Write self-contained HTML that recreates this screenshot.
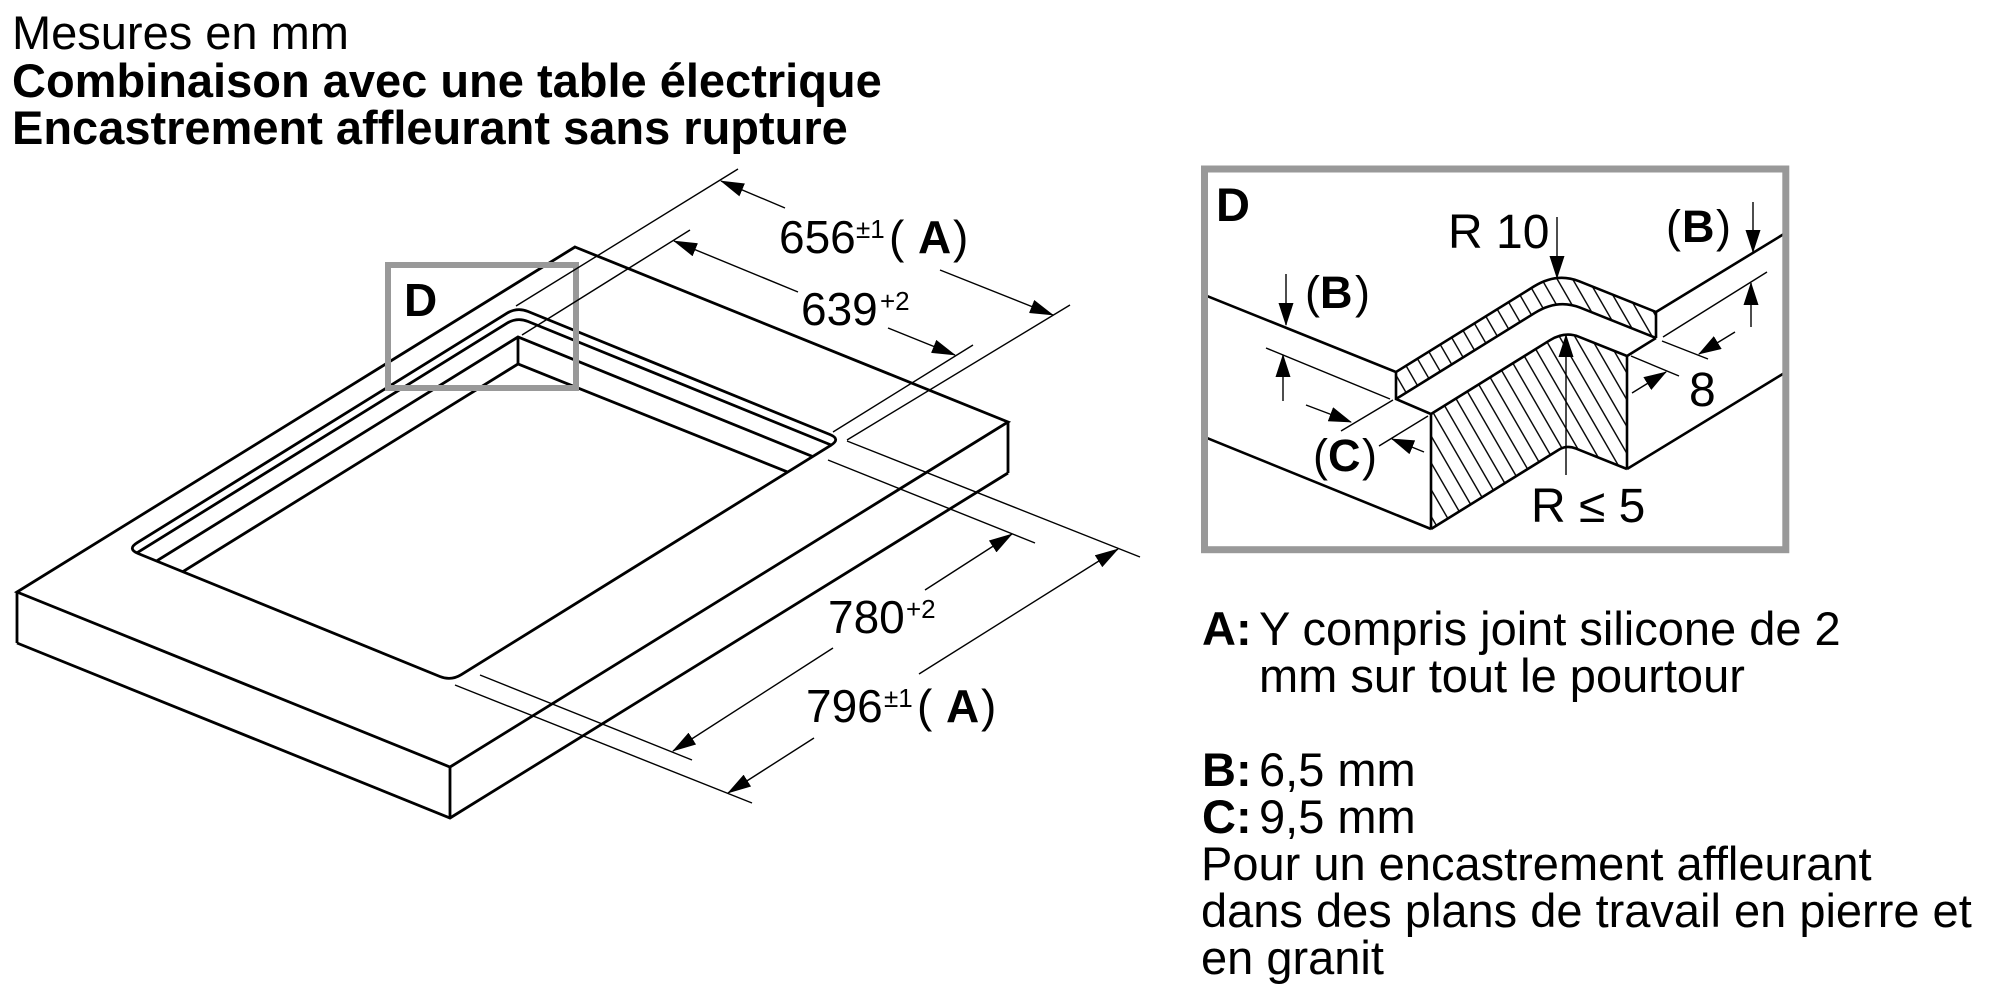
<!DOCTYPE html>
<html>
<head>
<meta charset="utf-8">
<style>
  html, body { margin: 0; padding: 0; background: #ffffff; overflow: hidden; }
  svg { display: block; }
  text { font-family: "Liberation Sans", Arial, sans-serif; fill: #000; }
  .b { font-weight: bold; }
</style>
</head>
<body>
<svg width="2000" height="1000" viewBox="0 0 2000 1000" xmlns="http://www.w3.org/2000/svg">
  <defs>
    <marker id="ah" markerUnits="userSpaceOnUse" markerWidth="24" markerHeight="14" refX="23" refY="7" orient="auto">
      <path d="M0,0 L24,7 L0,14 z" fill="#000"/>
    </marker>
    <marker id="ah2" markerUnits="userSpaceOnUse" markerWidth="23" markerHeight="15" refX="22" refY="7.5" orient="auto">
      <path d="M0,0 L23,7.5 L0,15 z" fill="#000"/>
    </marker>
    <clipPath id="open">
      <path d="M528.1,311.5 L829.9,434.5 Q841,439 830.8,445.3 L461.2,674.7 Q451,681 439.9,676.5 L138.1,553.5 Q127,549 137.2,542.7 L506.8,313.3 Q517,307 528.1,311.5 Z"/>
    </clipPath>
    <pattern id="hatch" patternUnits="userSpaceOnUse" width="13.4" height="40" patternTransform="rotate(-30)">
      <line x1="6.7" y1="-5" x2="6.7" y2="45" stroke="#000" stroke-width="1.4"/>
    </pattern>
  </defs>

  <!-- Titles -->
  <text x="12" y="49" font-size="47">Mesures en mm</text>
  <text x="12" y="97" font-size="47" class="b">Combinaison avec une table électrique</text>
  <text x="12" y="144" font-size="47" class="b">Encastrement affleurant sans rupture</text>

  <!-- ===== Main slab ===== -->
  <g fill="none" stroke="#000" stroke-width="2.8" stroke-linejoin="miter">
    <path d="M575,247 L1008,422 L450,767 L17,592 Z"/>
    <path d="M17,592 V643 M450,767 V818 M1008,422 V473"/>
    <path d="M17,643 L450,818 L1008,473"/>
    <path d="M528.1,311.5 L829.9,434.5 Q841,439 830.8,445.3 L461.2,674.7 Q451,681 439.9,676.5 L138.1,553.5 Q127,549 137.2,542.7 L506.8,313.3 Q517,307 528.1,311.5 Z"/>
  </g>
  <g clip-path="url(#open)" fill="none" stroke="#000" stroke-width="2.8">
    <path transform="translate(0,10)" d="M528.1,311.5 L829.9,434.5 Q841,439 830.8,445.3 L461.2,674.7 Q451,681 439.9,676.5 L138.1,553.5 Q127,549 137.2,542.7 L506.8,313.3 Q517,307 528.1,311.5 Z"/>
    <path d="M100,596 L518,337 L900,492"/>
    <path d="M100,623 L518,364 L900,517"/>
    <path d="M518,337 V364"/>
  </g>

  <!-- D box main -->
  <rect x="388" y="265" width="188" height="123" fill="none" stroke="#999" stroke-width="6"/>
  <text x="404" y="316" font-size="46" class="b">D</text>

  <!-- extension lines -->
  <g fill="none" stroke="#000" stroke-width="1.4">
    <path d="M516,306 L738,169"/>
    <path d="M847,440 L1070,305"/>
    <path d="M522,335 L690,230"/>
    <path d="M833,432 L973,345"/>
    <path d="M480,675 L692,760"/>
    <path d="M828,460 L1035,543"/>
    <path d="M455,685 L752,803"/>
    <path d="M847,441 L1140,557"/>
  </g>
  <!-- dimension lines -->
  <g fill="none" stroke="#000" stroke-width="1.4" marker-end="url(#ah)">
    <path d="M785,208 L721,181"/>
    <path d="M940,270 L1053,315"/>
    <path d="M798,292 L674,241"/>
    <path d="M888,328 L955,355"/>
    <path d="M925,590 L1012,534"/>
    <path d="M833,648 L673,751"/>
    <path d="M919,674 L1118,549"/>
    <path d="M814,738 L728,793"/>
  </g>

  <!-- dimension texts -->
  <text x="779" y="253" font-size="46">656</text>
  <text x="856" y="238" font-size="26">±1</text>
  <text x="889" y="253" font-size="46">(</text>
  <text x="918" y="253" font-size="46" class="b">A</text>
  <text x="953" y="253" font-size="46">)</text>

  <text x="801" y="325" font-size="46">639</text>
  <text x="880" y="310" font-size="26">+2</text>

  <text x="828" y="633" font-size="46">780</text>
  <text x="906" y="618" font-size="26">+2</text>

  <text x="806" y="722" font-size="46">796</text>
  <text x="884" y="707" font-size="26">±1</text>
  <text x="917" y="722" font-size="46">(</text>
  <text x="946" y="722" font-size="46" class="b">A</text>
  <text x="981" y="722" font-size="46">)</text>

  <!-- ===== Detail D ===== -->
  <g transform="translate(-6,-3)">
    <path d="M1402,375 L1540,289.4 Q1562.7,275.4 1585,284.2 L1662,315 L1662,341 L1586,310.6 Q1563.7,301.7 1541,315.8 L1402,402 Z" fill="url(#hatch)" stroke="none"/>
    <path d="M1437,417 L1556,343.2 Q1570.7,334.1 1585,339.8 L1633,359 L1633,472 L1582,451.6 Q1572.6,447.9 1565,452.6 L1437,532 Z" fill="url(#hatch)" stroke="none"/>

    <g fill="none" stroke="#000" stroke-width="2.6" stroke-linejoin="miter">
      <path d="M1210,297.8 L1402,375 V402 L1437,417 V532"/>
      <path d="M1210,439.8 L1437,532"/>
      <path d="M1402,375 L1540,289.4 Q1562.7,275.4 1585,284.2 L1662,315 V341"/>
      <path d="M1402,402 L1541,315.8 Q1563.7,301.7 1586,310.6 L1662,341"/>
      <path d="M1662,315 L1792,235.7"/>
      <path d="M1437,417 L1556,343.2 Q1570.7,334.1 1585,339.8 L1633,359 L1662,341"/>
      <path d="M1633,359 V472"/>
      <path d="M1437,532 L1565,452.6 Q1572.6,447.9 1582,451.6 L1633,472"/>
      <path d="M1633,472 L1792,375"/>
    </g>

    <g fill="none" stroke="#000" stroke-width="1.4">
      <path d="M1272,351 L1396,402"/>
      <path d="M1347,434 L1399,403"/>
      <path d="M1385,449 L1434,419"/>
      <path d="M1668,344 L1714,362"/>
      <path d="M1637,359 L1685,379"/>
      <path d="M1669,340 L1773,275"/>
    </g>
    <g fill="none" stroke="#000" stroke-width="1.4" marker-end="url(#ah2)">
      <path d="M1563,220 L1563,281"/>
      <path d="M1572,478 L1572,338"/>
      <path d="M1292,277 L1292,328"/>
      <path d="M1289,404 L1289,358"/>
      <path d="M1312,408 L1357,425"/>
      <path d="M1430,455 L1398,442"/>
      <path d="M1759,205 L1759,255"/>
      <path d="M1757,330 L1757,286"/>
      <path d="M1741,335 L1705,357"/>
      <path d="M1638,396 L1672,375"/>
    </g>
  </g>

  <!-- detail box -->
  <rect x="1204.5" y="169" width="581.3" height="380.7" fill="none" stroke="#999" stroke-width="7"/>
  <text x="1216" y="221" font-size="47" class="b">D</text>

  <!-- detail labels -->
  <text x="1448" y="248" font-size="48">R 10</text>
  <text x="1666" y="242" font-size="45">(</text>
  <text x="1682" y="242" font-size="45" class="b">B</text>
  <text x="1716" y="242" font-size="45">)</text>

  <text x="1305" y="308" font-size="45">(</text>
  <text x="1320" y="308" font-size="45" class="b">B</text>
  <text x="1355" y="308" font-size="45">)</text>

  <text x="1313" y="471" font-size="45">(</text>
  <text x="1328" y="471" font-size="45" class="b">C</text>
  <text x="1362" y="471" font-size="45">)</text>

  <text x="1689" y="406" font-size="48">8</text>
  <text x="1531" y="522" font-size="48">R ≤ 5</text>

  <!-- ===== Notes ===== -->
  <text x="1202" y="645" font-size="47" class="b">A:</text>
  <text x="1259" y="645" font-size="47">Y compris joint silicone de 2</text>
  <text x="1259" y="692" font-size="47">mm sur tout le pourtour</text>
  <text x="1202" y="786" font-size="47" class="b">B:</text>
  <text x="1259" y="786" font-size="47">6,5 mm</text>
  <text x="1202" y="833" font-size="47" class="b">C:</text>
  <text x="1259" y="833" font-size="47">9,5 mm</text>
  <text x="1201" y="880" font-size="47">Pour un encastrement affleurant</text>
  <text x="1201" y="927" font-size="47">dans des plans de travail en pierre et</text>
  <text x="1201" y="974" font-size="47">en granit</text>
</svg>
</body>
</html>
